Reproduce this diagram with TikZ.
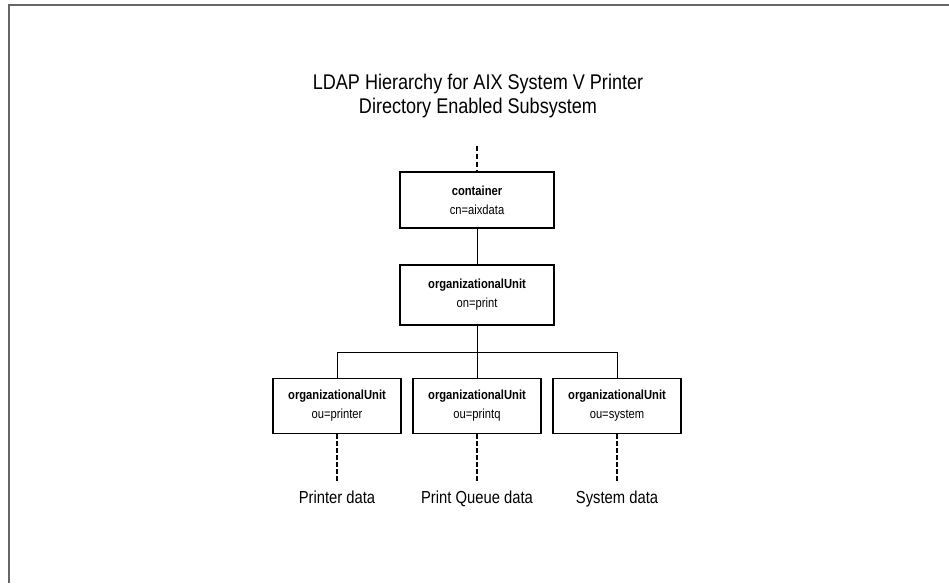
\documentclass[tikz,border=0pt]{standalone}
\usepackage{fontspec}
\setmainfont[FakeStretch=0.85]{Liberation Sans}
\usepackage{tikz}
\usetikzlibrary{
	arrows.meta,
	calc,
	positioning
}
\tikzset{
	objbox/.style={draw, line width=0.8pt, align=center, inner sep=0pt,
		font=\fontsize{7.5}{10.8}\selectfont},
	datalink/.style={line width=1.2pt, dash pattern=on 2.6pt off 1.4pt},
	datalabel/.style={font=\fontsize{9.9}{12}\selectfont, inner sep=0pt}
}

\begin{document}
\begin{tikzpicture}[x=0.02cm, y=-0.02cm]
		\useasboundingbox (0,0) rectangle (949,583);
		\draw[line width=1.2pt, gray!80!black] (9,583) -- (9,5) -- (949,5);
		\node[align=center, font=\fontsize{12.1}{13.6}\selectfont] (title) at (478,96)
			{LDAP Hierarchy for AIX System V Printer\\Directory Enabled Subsystem};
		\coordinate (top) at (477,146);
		\node[objbox, minimum width=3.08cm, minimum height=1.12cm] (cont) at (477,200)
			{\textbf{container}\\cn=aixdata};
		\node[objbox, minimum width=3.08cm, minimum height=1.2cm] (ou) at (477,295)
			{\textbf{organizationalUnit}\\on=print};
		\foreach \n/\x/\v in {printer/337/printer, printq/477/printq, system/617/system}
		\node[objbox, minimum width=2.56cm, minimum height=1.1cm] (\n) at (\x,406)
			{\textbf{organizationalUnit}\\ou=\v};
		\coordinate (bar) at (477,352);
		\draw[line width=0.8pt, dash pattern=on 2.8pt off 1.7pt] (top) -- (cont.north);
		\draw[line width=0.45pt] (cont.south) -- (ou.north);
		\draw[line width=0.45pt] (ou.south) -- (printq.north);
		\draw[line width=0.45pt] (printer.north) |- (bar) -| (system.north);
		\foreach \n/\x/\t in {printer/337/Printer data, printq/477/Print Queue data, system/617/System data}
		\node[datalabel, anchor=north] (\n-data) at (\x,491) {\t};
		\draw[datalink] (printer.south) -- ($(printer-data.north)+(0,-9)$);
		\draw[datalink, line width=0.8pt] (printq.south) -- ($(printq-data.north)+(0,-9)$);
		\draw[datalink] (system.south) -- ($(system-data.north)+(0,-9)$);
	\end{tikzpicture}
\end{document}
